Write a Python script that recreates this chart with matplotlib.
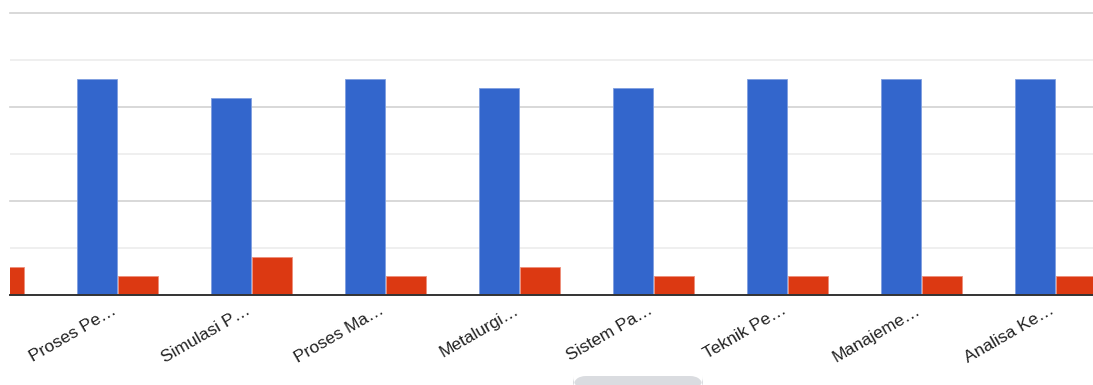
import matplotlib
matplotlib.use("Agg")
import matplotlib.pyplot as plt
from matplotlib.patches import FancyBboxPatch
import numpy as np

plt.rcParams['font.family'] = ['Liberation Sans', 'DejaVu Sans']

# Course names (truncated as displayed); the first group is scrolled mostly out of view
categories = ["", "Proses Pe…", "Simulasi P…", "Proses Ma…", "Metalurgi…",
              "Sistem Pa…", "Teknik Pe…", "Manajeme…", "Analisa Ke…"]
series_a = [23, 23, 21, 23, 22, 22, 23, 23, 23]
series_b = [3, 2, 4, 2, 3, 2, 2, 2, 2]

blue = "#3366cc"
red = "#dc3912"

W, H = 1093, 385
fig = plt.figure(figsize=(W / 100, H / 100), dpi=100)
left_px, right_px, top_px, base_px = 10, 1093, 13, 295
ax = fig.add_axes([left_px / W, 1 - base_px / H,
                   (right_px - left_px) / W, (base_px - top_px) / H])

group_px = 134.0
first_center_px = 117.5 - group_px
x = np.arange(len(categories))
bar_w = 40 / group_px
off = 20.5 / group_px

ax.bar(x - off, series_a, width=bar_w, color=blue, edgecolor="#7f9ee0",
       linewidth=0.6, zorder=3)
ax.bar(x + off, series_b, width=bar_w, color=red, edgecolor="#ee8f7a",
       linewidth=0.6, zorder=3)

# major and minor gridlines
for v in [10, 20, 30]:
    ax.axhline(v, color="#d2d2d2", linewidth=1.2, zorder=1, clip_on=False)
for v in [5, 15, 25]:
    ax.axhline(v, color="#ececec", linewidth=1.2, zorder=1)
ax.axhline(0, color="#333333", linewidth=1.4, zorder=4, clip_on=False)

for s in ax.spines.values():
    s.set_visible(False)
ax.set_yticks([])
ax.set_xticks(x)
ax.set_xticklabels(categories, rotation=30, ha="right", va="baseline",
                   rotation_mode="anchor", fontsize=12.5, color="#222222")
ax.tick_params(axis="x", length=0, pad=13)

ax.set_xlim((left_px - first_center_px) / group_px,
            (right_px - first_center_px) / group_px)
ax.set_ylim(0, 30)

# horizontal scrollbar thumb
fig.patches.append(FancyBboxPatch((573 / W, -4 / H), 130 / W, 13 / H,
                                  boxstyle="round,pad=0,rounding_size=0.012",
                                  transform=fig.transFigure, facecolor="#dadce0",
                                  edgecolor="none", mutation_aspect=W / H))

fig.savefig("out.png", dpi=100)
